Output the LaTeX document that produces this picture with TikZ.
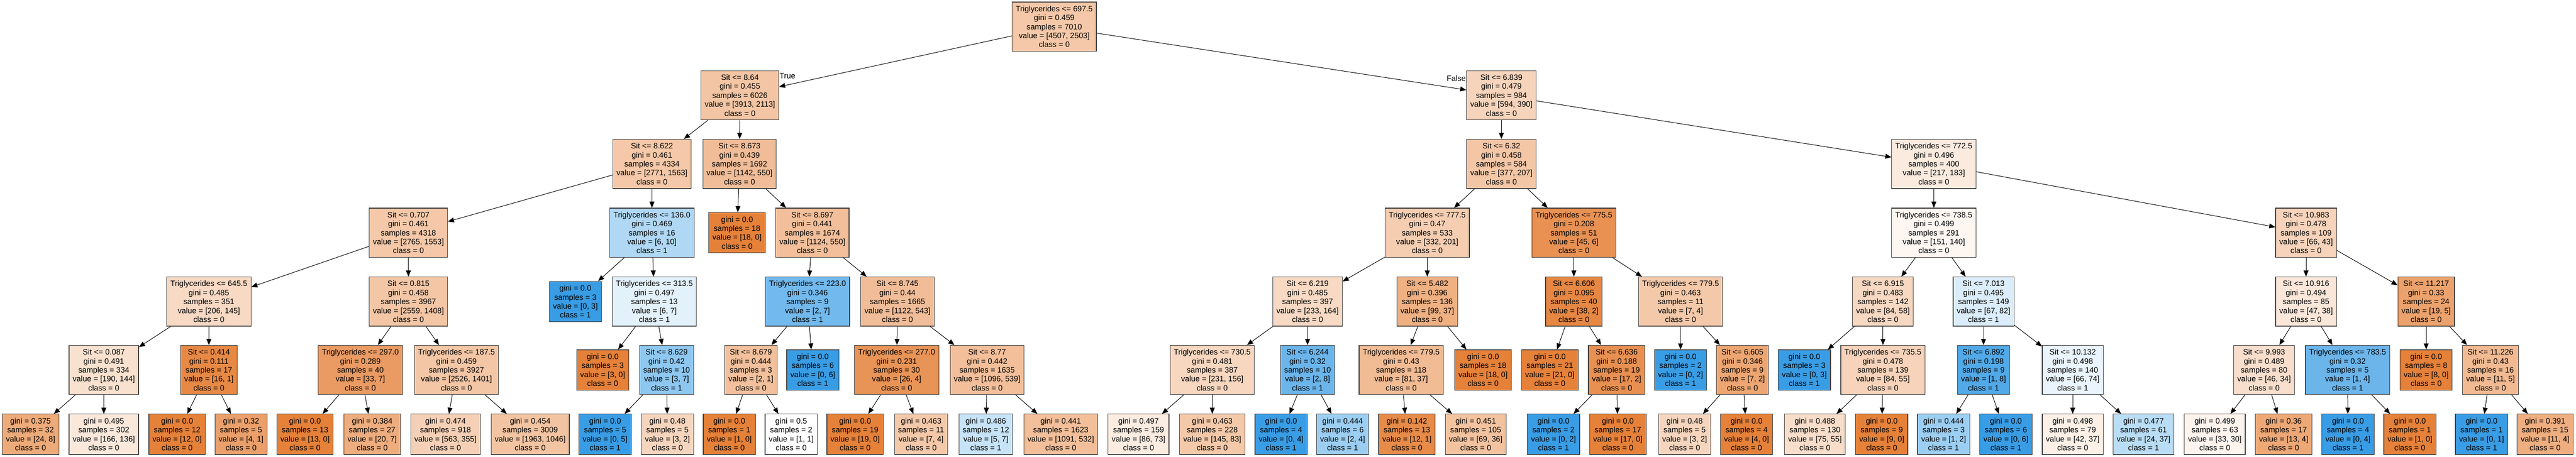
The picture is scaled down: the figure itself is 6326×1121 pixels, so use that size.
\documentclass[tikz,border=0pt]{standalone}
\usepackage{fontspec}
\setmainfont{Liberation Sans}
\usepackage{tikz}
\usetikzlibrary{arrows.meta}
\definecolor{corange}{HTML}{E58139}
\definecolor{cblue}{HTML}{399DE5}
\def\splittext#1#2#3#4#5{#1\\gini = #2\\samples = #3\\value = [#4]\\class = #5}
\def\leaftext#1#2#3#4{gini = #1\\samples = #2\\value = [#3]\\class = #4}
\tikzset{
	tbox/.style={draw=black!75, line width=0.03cm, rectangle, align=center, inner xsep=0.18cm, inner ysep=0.19cm, font=\fontsize{10.9}{12.5}\selectfont},
	branch/.style={-{Triangle[length=0.3cm,width=0.24cm]}, line width=0.025cm},
	lbl/.style={inner sep=0.02cm, font=\fontsize{10.9}{12.5}\selectfont}
}

\begin{document}
\begin{tikzpicture}[x=0.02cm, y=-0.02cm]
			%%%%% START %%%%%
			\useasboundingbox (0, 0) rectangle (6326, 1121);
			
			% depth 0
			\node[tbox, fill=corange!44!white] (root) at (2589, 65.5) {\splittext{Triglycerides <= 697.5}{0.459}{7010}{4507, 2503}{0}};
			
			% depth 1
			\node[tbox, fill=corange!46!white] (s864) at (1817, 234) {\splittext{Sit <= 8.64}{0.455}{6026}{3913, 2113}{0}};
			\node[tbox, fill=corange!34!white] (s6839) at (3687, 234) {\splittext{Sit <= 6.839}{0.479}{984}{594, 390}{0}};
			
			% depth 2
			\node[tbox, fill=corange!44!white] (s8622) at (1601, 402.5) {\splittext{Sit <= 8.622}{0.461}{4334}{2771, 1563}{0}};
			\node[tbox, fill=corange!52!white] (s8673) at (1816, 402.5) {\splittext{Sit <= 8.673}{0.439}{1692}{1142, 550}{0}};
			\node[tbox, fill=corange!45!white] (s632) at (3687, 402.5) {\splittext{Sit <= 6.32}{0.458}{584}{377, 207}{0}};
			\node[tbox, fill=corange!16!white] (t7725) at (4749, 402.5) {\splittext{Triglycerides <= 772.5}{0.496}{400}{217, 183}{0}};
			
			% depth 3
			\node[tbox, fill=corange!44!white] (s0707) at (1003, 571.5) {\splittext{Sit <= 0.707}{0.461}{4318}{2765, 1553}{0}};
			\node[tbox, fill=cblue!40!white] (t1360) at (1601, 571.5) {\splittext{Triglycerides <= 136.0}{0.469}{16}{6, 10}{1}};
			\node[tbox, fill=corange] (l18a) at (1810, 571.5) {\leaftext{0.0}{18}{18, 0}{0}};
			\node[tbox, fill=corange!51!white] (s8697) at (1995, 571.5) {\splittext{Sit <= 8.697}{0.441}{1674}{1124, 550}{0}};
			\node[tbox, fill=corange!39!white] (t7775) at (3505, 571.5) {\splittext{Triglycerides <= 777.5}{0.47}{533}{332, 201}{0}};
			\node[tbox, fill=corange!87!white] (t7755) at (3865, 571.5) {\splittext{Triglycerides <= 775.5}{0.208}{51}{45, 6}{0}};
			\node[tbox, fill=corange!7!white] (t7385) at (4749, 571.5) {\splittext{Triglycerides <= 738.5}{0.499}{291}{151, 140}{0}};
			\node[tbox, fill=corange!35!white] (s10983) at (5663, 571.5) {\splittext{Sit <= 10.983}{0.478}{109}{66, 43}{0}};
			
			% depth 4
			\node[tbox, fill=corange!30!white] (t6455) at (513, 740.5) {\splittext{Triglycerides <= 645.5}{0.485}{351}{206, 145}{0}};
			\node[tbox, fill=corange!45!white] (s0815) at (1003, 740.5) {\splittext{Sit <= 0.815}{0.458}{3967}{2559, 1408}{0}};
			\node[tbox, fill=cblue] (l03a) at (1413, 740.5) {\leaftext{0.0}{3}{0, 3}{1}};
			\node[tbox, fill=cblue!14!white] (t3135) at (1607, 740.5) {\splittext{Triglycerides <= 313.5}{0.497}{13}{6, 7}{1}};
			\node[tbox, fill=cblue!71!white] (t2230) at (1983, 740.5) {\splittext{Triglycerides <= 223.0}{0.346}{9}{2, 7}{1}};
			\node[tbox, fill=corange!52!white] (s8745) at (2204, 740.5) {\splittext{Sit <= 8.745}{0.44}{1665}{1122, 543}{0}};
			\node[tbox, fill=corange!30!white] (s6219) at (3211, 740.5) {\splittext{Sit <= 6.219}{0.485}{397}{233, 164}{0}};
			\node[tbox, fill=corange!63!white] (s5482) at (3505, 740.5) {\splittext{Sit <= 5.482}{0.396}{136}{99, 37}{0}};
			\node[tbox, fill=corange!95!white] (s6606) at (3865, 740.5) {\splittext{Sit <= 6.606}{0.095}{40}{38, 2}{0}};
			\node[tbox, fill=corange!43!white] (t7795a) at (4127, 740.5) {\splittext{Triglycerides <= 779.5}{0.463}{11}{7, 4}{0}};
			\node[tbox, fill=corange!31!white] (s6915) at (4624, 740.5) {\splittext{Sit <= 6.915}{0.483}{142}{84, 58}{0}};
			\node[tbox, fill=cblue!18!white] (s7013) at (4871, 740.5) {\splittext{Sit <= 7.013}{0.495}{149}{67, 82}{1}};
			\node[tbox, fill=corange!19!white] (s10916) at (5663, 740.5) {\splittext{Sit <= 10.916}{0.494}{85}{47, 38}{0}};
			\node[tbox, fill=corange!74!white] (s11217) at (5958, 740.5) {\splittext{Sit <= 11.217}{0.33}{24}{19, 5}{0}};
			
			% depth 5
			\node[tbox, fill=corange!24!white] (s0087) at (255, 908.5) {\splittext{Sit <= 0.087}{0.491}{334}{190, 144}{0}};
			\node[tbox, fill=corange!94!white] (s0414) at (513, 908.5) {\splittext{Sit <= 0.414}{0.111}{17}{16, 1}{0}};
			\node[tbox, fill=corange!79!white] (t2970) at (885, 908.5) {\splittext{Triglycerides <= 297.0}{0.289}{40}{33, 7}{0}};
			\node[tbox, fill=corange!45!white] (t1875) at (1121, 908.5) {\splittext{Triglycerides <= 187.5}{0.459}{3927}{2526, 1401}{0}};
			\node[tbox, fill=corange] (l30) at (1480, 908.5) {\leaftext{0.0}{3}{3, 0}{0}};
			\node[tbox, fill=cblue!57!white] (s8629) at (1637, 908.5) {\splittext{Sit <= 8.629}{0.42}{10}{3, 7}{1}};
			\node[tbox, fill=corange!50!white] (s8679) at (1844, 908.5) {\splittext{Sit <= 8.679}{0.444}{3}{2, 1}{0}};
			\node[tbox, fill=cblue] (l06) at (1996, 908.5) {\leaftext{0.0}{6}{0, 6}{1}};
			\node[tbox, fill=corange!85!white] (t2770) at (2202, 908.5) {\splittext{Triglycerides <= 277.0}{0.231}{30}{26, 4}{0}};
			\node[tbox, fill=corange!51!white] (s877) at (2424, 908.5) {\splittext{Sit <= 8.77}{0.442}{1635}{1096, 539}{0}};
			\node[tbox, fill=corange!32!white] (t7305) at (2977, 908.5) {\splittext{Triglycerides <= 730.5}{0.481}{387}{231, 156}{0}};
			\node[tbox, fill=cblue!75!white] (s6244) at (3211, 908.5) {\splittext{Sit <= 6.244}{0.32}{10}{2, 8}{1}};
			\node[tbox, fill=corange!54!white] (t7795b) at (3441, 908.5) {\splittext{Triglycerides <= 779.5}{0.43}{118}{81, 37}{0}};
			\node[tbox, fill=corange] (l18b) at (3642, 908.5) {\leaftext{0.0}{18}{18, 0}{0}};
			\node[tbox, fill=corange] (l21) at (3806, 908.5) {\leaftext{0.0}{21}{21, 0}{0}};
			\node[tbox, fill=corange!88!white] (s6636) at (3970, 908.5) {\splittext{Sit <= 6.636}{0.188}{19}{17, 2}{0}};
			\node[tbox, fill=cblue] (l02) at (4127, 908.5) {\leaftext{0.0}{2}{0, 2}{1}};
			\node[tbox, fill=corange!71!white] (s6605) at (4279, 908.5) {\splittext{Sit <= 6.605}{0.346}{9}{7, 2}{0}};
			\node[tbox, fill=cblue] (l03b) at (4431, 908.5) {\leaftext{0.0}{3}{0, 3}{1}};
			\node[tbox, fill=corange!35!white] (t7355) at (4624, 908.5) {\splittext{Triglycerides <= 735.5}{0.478}{139}{84, 55}{0}};
			\node[tbox, fill=cblue!88!white] (s6892) at (4871, 908.5) {\splittext{Sit <= 6.892}{0.198}{9}{1, 8}{1}};
			\node[tbox, fill=cblue!11!white] (s10132) at (5090, 908.5) {\splittext{Sit <= 10.132}{0.498}{140}{66, 74}{1}};
			\node[tbox, fill=corange!26!white] (s9993) at (5560, 908.5) {\splittext{Sit <= 9.993}{0.489}{80}{46, 34}{0}};
			\node[tbox, fill=cblue!75!white] (t7835) at (5765, 908.5) {\splittext{Triglycerides <= 783.5}{0.32}{5}{1, 4}{1}};
			\node[tbox, fill=corange] (l80) at (5958, 908.5) {\leaftext{0.0}{8}{8, 0}{0}};
			\node[tbox, fill=corange!55!white] (s11226) at (6116, 908.5) {\splittext{Sit <= 11.226}{0.43}{16}{11, 5}{0}};
			
			% depth 6
			\node[tbox, fill=corange!67!white] (leaf1) at (75, 1066.5) {\leaftext{0.375}{32}{24, 8}{0}};
			\node[tbox, fill=corange!18!white] (leaf2) at (255, 1066.5) {\leaftext{0.495}{302}{166, 136}{0}};
			\node[tbox, fill=corange] (leaf3) at (435, 1066.5) {\leaftext{0.0}{12}{12, 0}{0}};
			\node[tbox, fill=corange!75!white] (leaf4) at (592, 1066.5) {\leaftext{0.32}{5}{4, 1}{0}};
			\node[tbox, fill=corange] (leaf5) at (749, 1066.5) {\leaftext{0.0}{13}{13, 0}{0}};
			\node[tbox, fill=corange!65!white] (leaf6) at (914, 1066.5) {\leaftext{0.384}{27}{20, 7}{0}};
			\node[tbox, fill=corange!37!white] (leaf7) at (1094, 1066.5) {\leaftext{0.474}{918}{563, 355}{0}};
			\node[tbox, fill=corange!47!white] (leaf8) at (1302, 1066.5) {\leaftext{0.454}{3009}{1963, 1046}{0}};
			\node[tbox, fill=cblue] (leaf9) at (1486, 1066.5) {\leaftext{0.0}{5}{0, 5}{1}};
			\node[tbox, fill=corange!33!white] (leaf10) at (1639, 1066.5) {\leaftext{0.48}{5}{3, 2}{0}};
			\node[tbox, fill=corange] (leaf11) at (1791, 1066.5) {\leaftext{0.0}{1}{1, 0}{0}};
			\node[tbox, fill=white] (leaf12) at (1943, 1066.5) {\leaftext{0.5}{2}{1, 1}{0}};
			\node[tbox, fill=corange] (leaf13) at (2100, 1066.5) {\leaftext{0.0}{19}{19, 0}{0}};
			\node[tbox, fill=corange!43!white] (leaf14) at (2262, 1066.5) {\leaftext{0.463}{11}{7, 4}{0}};
			\node[tbox, fill=cblue!29!white] (leaf15) at (2421, 1066.5) {\leaftext{0.486}{12}{5, 7}{1}};
			\node[tbox, fill=corange!51!white] (leaf16) at (2605, 1066.5) {\leaftext{0.441}{1623}{1091, 532}{0}};
			\node[tbox, fill=corange!15!white] (leaf17) at (2796, 1066.5) {\leaftext{0.497}{159}{86, 73}{0}};
			\node[tbox, fill=corange!43!white] (leaf18) at (2977, 1066.5) {\leaftext{0.463}{228}{145, 83}{0}};
			\node[tbox, fill=cblue] (leaf19) at (3146, 1066.5) {\leaftext{0.0}{4}{0, 4}{1}};
			\node[tbox, fill=cblue!50!white] (leaf20) at (3297, 1066.5) {\leaftext{0.444}{6}{2, 4}{1}};
			\node[tbox, fill=corange!92!white] (leaf21) at (3455, 1066.5) {\leaftext{0.142}{13}{12, 1}{0}};
			\node[tbox, fill=corange!48!white] (leaf22) at (3624, 1066.5) {\leaftext{0.451}{105}{69, 36}{0}};
			\node[tbox, fill=cblue] (leaf23) at (3815, 1066.5) {\leaftext{0.0}{2}{0, 2}{1}};
			\node[tbox, fill=corange] (leaf24) at (3973, 1066.5) {\leaftext{0.0}{17}{17, 0}{0}};
			\node[tbox, fill=corange!33!white] (leaf25) at (4137, 1066.5) {\leaftext{0.48}{5}{3, 2}{0}};
			\node[tbox, fill=corange] (leaf26) at (4289, 1066.5) {\leaftext{0.0}{4}{4, 0}{0}};
			\node[tbox, fill=corange!27!white] (leaf27) at (4457, 1066.5) {\leaftext{0.488}{130}{75, 55}{0}};
			\node[tbox, fill=corange] (leaf28) at (4621, 1066.5) {\leaftext{0.0}{9}{9, 0}{0}};
			\node[tbox, fill=cblue!50!white] (leaf29) at (4773, 1066.5) {\leaftext{0.444}{3}{1, 2}{1}};
			\node[tbox, fill=cblue] (leaf30) at (4926, 1066.5) {\leaftext{0.0}{6}{0, 6}{1}};
			\node[tbox, fill=corange!12!white] (leaf31) at (5090, 1066.5) {\leaftext{0.498}{79}{42, 37}{0}};
			\node[tbox, fill=cblue!35!white] (leaf32) at (5264, 1066.5) {\leaftext{0.477}{61}{24, 37}{1}};
			\node[tbox, fill=corange!9!white] (leaf33) at (5439, 1066.5) {\leaftext{0.499}{63}{33, 30}{0}};
			\node[tbox, fill=corange!69!white] (leaf34) at (5608, 1066.5) {\leaftext{0.36}{17}{13, 4}{0}};
			\node[tbox, fill=cblue] (leaf35) at (5766, 1066.5) {\leaftext{0.0}{4}{0, 4}{1}};
			\node[tbox, fill=corange] (leaf36) at (5918, 1066.5) {\leaftext{0.0}{1}{1, 0}{0}};
			\node[tbox, fill=cblue] (leaf37) at (6094, 1066.5) {\leaftext{0.0}{1}{0, 1}{1}};
			\node[tbox, fill=corange!64!white] (leaf38) at (6250, 1066.5) {\leaftext{0.391}{15}{11, 4}{0}};
			
			% branches
			\draw[branch] (root) -- (s864);
			\draw[branch] (root) -- (s6839);
			\node[lbl, anchor=north west] (ltrue) at ([yshift=-0.1cm]s864.north east) {True};
			\node[lbl, anchor=north east] (lfalse) at ([yshift=-0.22cm]s6839.north west) {False};
			
			\draw[branch] (s864) -- (s8622);
			\draw[branch] (s864) -- (s8673);
			\draw[branch] (s6839) -- (s632);
			\draw[branch] (s6839) -- (t7725);
			
			\draw[branch] (s8622) -- (s0707);
			\draw[branch] (s8622) -- (t1360);
			\draw[branch] (s8673) -- (l18a);
			\draw[branch] (s8673) -- (s8697);
			\draw[branch] (s632) -- (t7775);
			\draw[branch] (s632) -- (t7755);
			\draw[branch] (t7725) -- (t7385);
			\draw[branch] (t7725) -- (s10983);
			
			\draw[branch] (s0707) -- (t6455);
			\draw[branch] (s0707) -- (s0815);
			\draw[branch] (t1360) -- (l03a);
			\draw[branch] (t1360) -- (t3135);
			\draw[branch] (s8697) -- (t2230);
			\draw[branch] (s8697) -- (s8745);
			\draw[branch] (t7775) -- (s6219);
			\draw[branch] (t7775) -- (s5482);
			\draw[branch] (t7755) -- (s6606);
			\draw[branch] (t7755) -- (t7795a);
			\draw[branch] (t7385) -- (s6915);
			\draw[branch] (t7385) -- (s7013);
			\draw[branch] (s10983) -- (s10916);
			\draw[branch] (s10983) -- (s11217);
			
			\draw[branch] (t6455) -- (s0087);
			\draw[branch] (t6455) -- (s0414);
			\draw[branch] (s0815) -- (t2970);
			\draw[branch] (s0815) -- (t1875);
			\draw[branch] (t3135) -- (l30);
			\draw[branch] (t3135) -- (s8629);
			\draw[branch] (t2230) -- (s8679);
			\draw[branch] (t2230) -- (l06);
			\draw[branch] (s8745) -- (t2770);
			\draw[branch] (s8745) -- (s877);
			\draw[branch] (s6219) -- (t7305);
			\draw[branch] (s6219) -- (s6244);
			\draw[branch] (s5482) -- (t7795b);
			\draw[branch] (s5482) -- (l18b);
			\draw[branch] (s6606) -- (l21);
			\draw[branch] (s6606) -- (s6636);
			\draw[branch] (t7795a) -- (l02);
			\draw[branch] (t7795a) -- (s6605);
			\draw[branch] (s6915) -- (l03b);
			\draw[branch] (s6915) -- (t7355);
			\draw[branch] (s7013) -- (s6892);
			\draw[branch] (s7013) -- (s10132);
			\draw[branch] (s10916) -- (s9993);
			\draw[branch] (s10916) -- (t7835);
			\draw[branch] (s11217) -- (l80);
			\draw[branch] (s11217) -- (s11226);
			
			\draw[branch] (s0087) -- (leaf1);
			\draw[branch] (s0087) -- (leaf2);
			\draw[branch] (s0414) -- (leaf3);
			\draw[branch] (s0414) -- (leaf4);
			\draw[branch] (t2970) -- (leaf5);
			\draw[branch] (t2970) -- (leaf6);
			\draw[branch] (t1875) -- (leaf7);
			\draw[branch] (t1875) -- (leaf8);
			\draw[branch] (s8629) -- (leaf9);
			\draw[branch] (s8629) -- (leaf10);
			\draw[branch] (s8679) -- (leaf11);
			\draw[branch] (s8679) -- (leaf12);
			\draw[branch] (t2770) -- (leaf13);
			\draw[branch] (t2770) -- (leaf14);
			\draw[branch] (s877) -- (leaf15);
			\draw[branch] (s877) -- (leaf16);
			\draw[branch] (t7305) -- (leaf17);
			\draw[branch] (t7305) -- (leaf18);
			\draw[branch] (s6244) -- (leaf19);
			\draw[branch] (s6244) -- (leaf20);
			\draw[branch] (t7795b) -- (leaf21);
			\draw[branch] (t7795b) -- (leaf22);
			\draw[branch] (s6636) -- (leaf23);
			\draw[branch] (s6636) -- (leaf24);
			\draw[branch] (s6605) -- (leaf25);
			\draw[branch] (s6605) -- (leaf26);
			\draw[branch] (t7355) -- (leaf27);
			\draw[branch] (t7355) -- (leaf28);
			\draw[branch] (s6892) -- (leaf29);
			\draw[branch] (s6892) -- (leaf30);
			\draw[branch] (s10132) -- (leaf31);
			\draw[branch] (s10132) -- (leaf32);
			\draw[branch] (s9993) -- (leaf33);
			\draw[branch] (s9993) -- (leaf34);
			\draw[branch] (t7835) -- (leaf35);
			\draw[branch] (t7835) -- (leaf36);
			\draw[branch] (s11226) -- (leaf37);
			\draw[branch] (s11226) -- (leaf38);
			
			%%%%% END %%%%%
		\end{tikzpicture}
\end{document}
